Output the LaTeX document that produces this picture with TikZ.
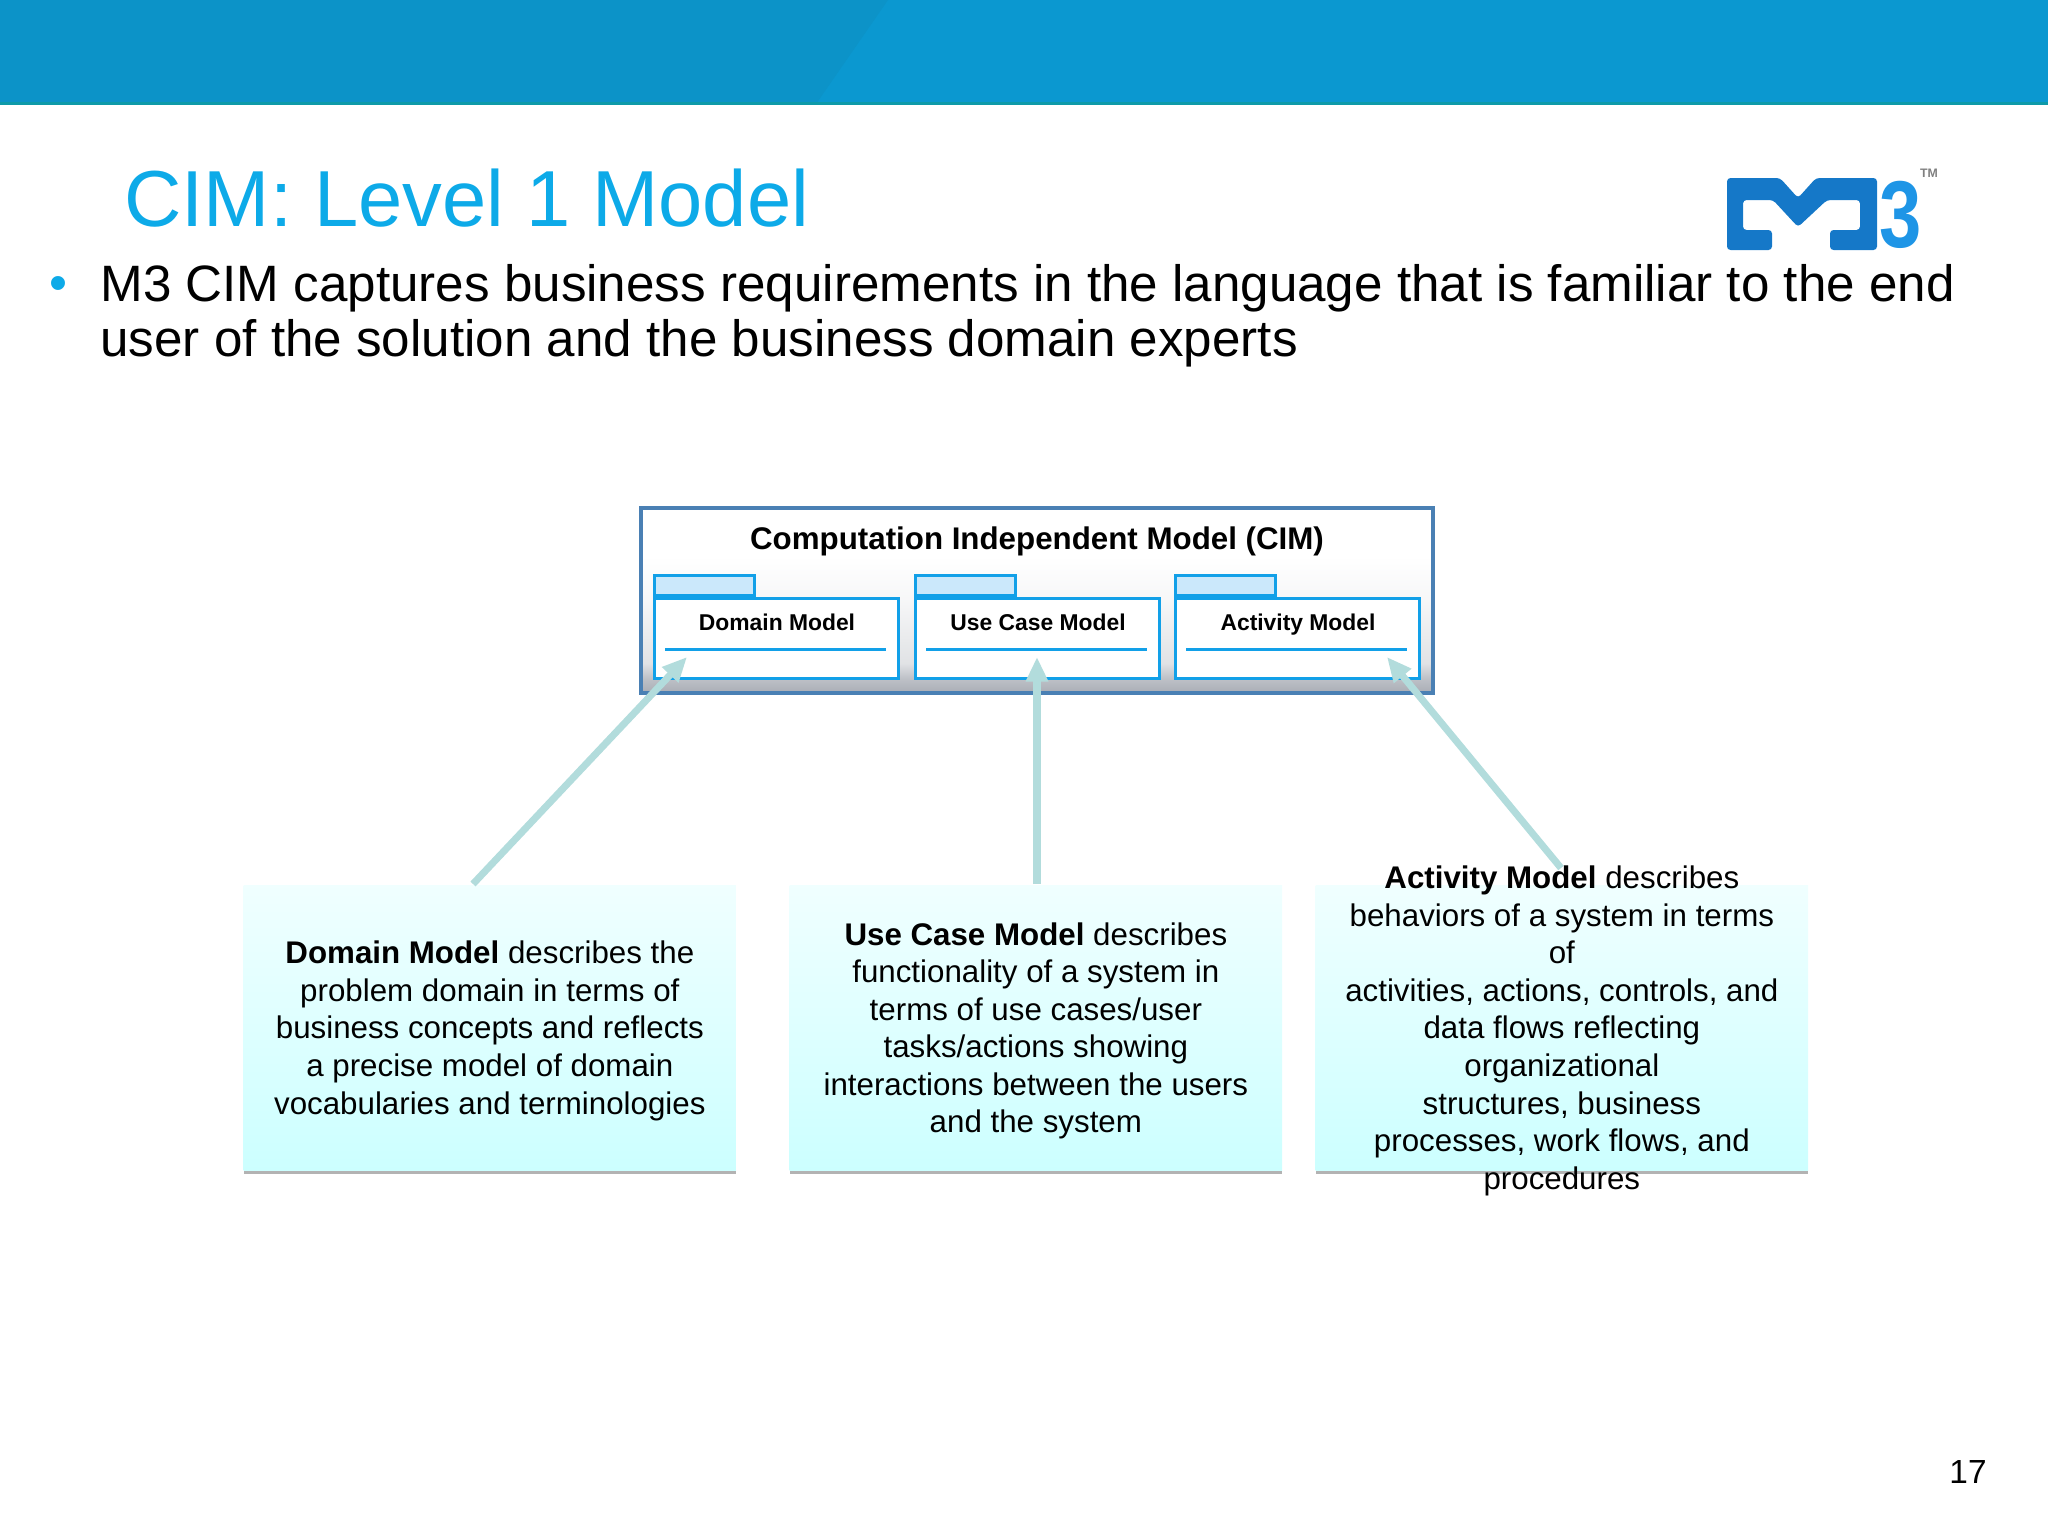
\documentclass[tikz,border=0pt]{standalone}
\usepackage{fontspec}
\setmainfont{Liberation Sans}
\usetikzlibrary{arrows.meta,shadows}
\definecolor{bannerblue}{HTML}{0B98D0}
\definecolor{bannerdark}{HTML}{0C93C8}
\definecolor{bannerline}{HTML}{0E9AA8}
\definecolor{titleblue}{HTML}{0DAAE8}
\definecolor{pkgblue}{HTML}{12A0E8}
\definecolor{tabblue}{HTML}{CBE8FB}
\definecolor{cimedge}{HTML}{4A80B4}
\definecolor{cimgray}{HTML}{A9ADB5}
\definecolor{arrowteal}{HTML}{B2DCDC}
\definecolor{logoblue}{HTML}{1578C8}
\definecolor{logolight}{HTML}{1E95E6}
\pgfdeclareverticalshading{cimshade}{100bp}{color(0bp)=(cimgray); color(25bp)=(cimgray); color(29bp)=(white!25!cimgray); color(33bp)=(white!65!cimgray); color(50bp)=(white!90!cimgray); color(62bp)=(white); color(100bp)=(white)}
\tikzset{
	descbox/.style={minimum width=4.92cm,minimum height=2.85cm,top color=white!70!cyan!20,bottom color=cyan!20,draw=none,inner sep=0pt,drop shadow={shadow xshift=0mm,shadow yshift=-0.35mm,opacity=0.6}},
	desctext/.style={align=center,font=\fontsize{8.9}{10.68}\selectfont,yshift=-0.026cm},
	pkgbox/.style={draw=pkgblue,line width=0.85pt,fill=white,minimum width=2.44cm,minimum height=0.80cm,inner sep=0pt},
	pkgtab/.style={draw=pkgblue,line width=0.85pt,fill=tabblue,minimum width=1.00cm,minimum height=0.20cm,inner sep=0pt},
	pkgtext/.style={font=\fontsize{6.5}{8}\selectfont\bfseries,anchor=base},
	linkarrow/.style={-{Triangle[length=7pt,width=6pt]},draw=arrowteal,line width=2pt},
}
\newcommand{\ModelPkg}[3]{% ime vozlisca, leva stran paketa, besedilo
	\node [pkgtab,anchor=south west] (#1tab) at (#2,597) {};
	\node [pkgbox,anchor=north west] (#1) at (#2,597) {};
	\node [pkgtext] (#1label) at (#2+124,630) {#3};
	\draw [pkgblue,line width=0.85pt] (#2+12,649)--(#2+233,649);
	}
\begin{document}
\begin{tikzpicture}[x=0.01cm,y=-0.01cm]
	\useasboundingbox (0,0) rectangle (2048,1536);
	% pas na vrhu
	\fill [bannerblue] (0,0) rectangle (2048,104);
	\fill [bannerdark] (0,0)--(888,0)--(816,104)--(0,104)--cycle;
	\draw [bannerline,line width=0.6pt] (0,103.5)--(2048,103.5);
	\node [anchor=west,text=titleblue,font=\fontsize{22.6}{28}\selectfont] (title) at (112,198) {CIM: Level 1 Model};
	\node [text=titleblue,font=\fontsize{14.6}{16}\selectfont] (bullet) at (58,289) {•};
	\node [anchor=west,font=\fontsize{14.55}{16}\selectfont] (bodyone) at (88,288) {M3 CIM captures business requirements in the language that is familiar to the end};
	\node [anchor=west,font=\fontsize{14.55}{16}\selectfont] (bodytwo) at (88,343) {user of the solution and the business domain experts};
	% logotip
	\fill [logoblue,rounded corners=1pt] (1727,178)--(1780,178)--(1798,198)--(1816,178)--(1877,178)--(1877,250)--(1830,250)--(1830,230)--(1860,230)--(1860,200)--(1827,200)--(1798,227)--(1773,200)--(1743,200)--(1743,230)--(1772,230)--(1772,250)--(1727,250)--cycle;
	\foreach \x/\y in {1735/186,1735/240,1798/211,1868/186,1868/240}
		\fill [logolight] (\x,\y) circle (0.035);
	\node [text=logolight,font=\fontsize{27}{27}\selectfont\bfseries,xscale=0.8,inner sep=0pt] (logothree) at (1901,215) {3};
	\node [text=gray,font=\fontsize{3.5}{4}\selectfont\bfseries,inner sep=0pt] (logotm) at (1929,173) {TM};
	% glavni okvir
	\node [draw=cimedge,line width=1pt,shading=cimshade,minimum width=7.92cm,minimum height=1.85cm,anchor=north west,inner sep=0pt] (cim) at (639,506) {};
	\node [font=\fontsize{8.9}{11}\selectfont\bfseries] (cimlabel) at (1037,541) {Computation Independent Model (CIM)};
	\ModelPkg{domain}{653}{Domain Model}
	\ModelPkg{usecase}{914}{Use Case Model}
	\ModelPkg{activity}{1174}{Activity Model}
	% opisi
	\node [descbox,anchor=north west] (domainbox) at (243,885) {};
	\node [descbox,anchor=north west] (usecasebox) at (789,885) {};
	\node [descbox,anchor=north west] (activitybox) at (1315,885) {};
	\coordinate (domainend) at (473,884);
	\coordinate (usecaseend) at (1037,884);
	\coordinate (activityend) at (1561,868);
	\coordinate (domaintip) at (687,657);
	\coordinate (usecasetip) at (1037,657);
	\coordinate (activitytip) at (1387,657);
	\draw [linkarrow] (domainend)--(domaintip);
	\draw [linkarrow] (usecaseend)--(usecasetip);
	\draw [linkarrow] (activityend)--(activitytip);
	\node [desctext] (domaintext) at (domainbox) {\textbf{Domain Model} describes the\\problem domain in terms of\\business concepts and reflects\\a precise model of domain\\vocabularies and terminologies};
	\node [desctext] (usecasetext) at (usecasebox) {\textbf{Use Case Model} describes\\functionality of a system in\\terms of use cases/user\\tasks/actions showing\\interactions between the users\\and the system};
	\node [desctext] (activitytext) at (activitybox) {\textbf{Activity Model} describes\\behaviors of a system in terms\\of\\activities, actions, controls, and\\data flows reflecting\\organizational\\structures, business\\processes, work flows, and\\procedures};
	\node [font=\fontsize{9.5}{11}\selectfont] (pagenum) at (1968,1472) {17};
	\end{tikzpicture}
\end{document}
